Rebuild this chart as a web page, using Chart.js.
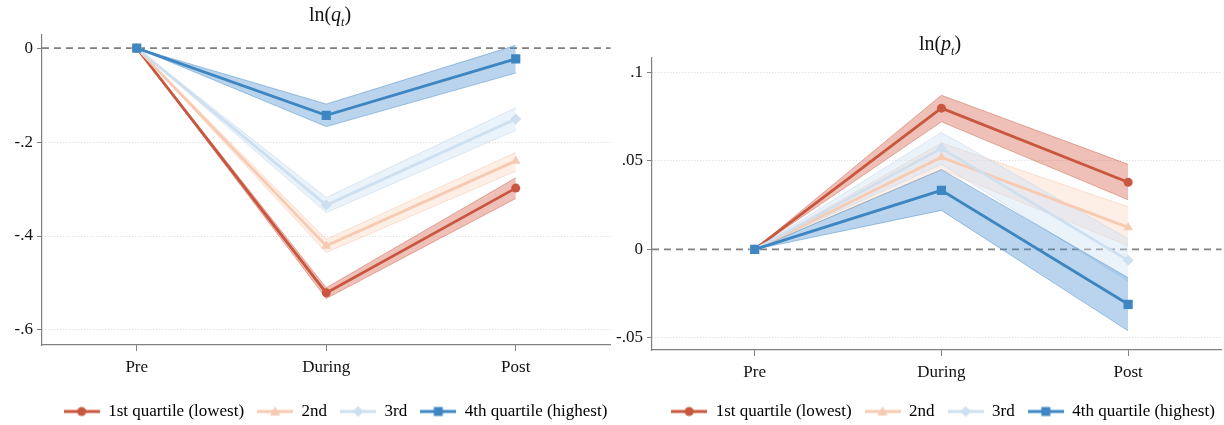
<!DOCTYPE html>
<html>
<head>
<meta charset="utf-8">
<script src="https://cdn.jsdelivr.net/npm/chart.js@4.4.0/dist/chart.umd.min.js"></script>
<style>
body { margin: 0; background: #fff; width: 1224px; height: 425px; overflow: hidden; position: relative; font-family: "Liberation Serif", "Times New Roman", serif; }
.panel { position: absolute; top: 0; height: 425px; }
.ttl { position: absolute; font-size: 20px; transform: translateX(-50%); white-space: nowrap; color: #111; }
.ttl sub { font-size: 12px; }
</style>
</head>
<body>
<div class="panel" style="left:0;width:617px"><canvas id="chart_q" width="617" height="425"></canvas>
  <div class="ttl" style="left:330px;top:3px">ln(<i>q<sub>t</sub></i>)</div></div>
<div class="panel" style="left:612px;width:616px"><canvas id="chart_p" width="616" height="425"></canvas>
  <div class="ttl" style="left:328px;top:32px">ln(<i>p<sub>t</sub></i>)</div></div>
<script>
var periods = ['Pre', 'During', 'Post'];
var quartiles = ['1st quartile (lowest)', '2nd', '3rd', '4th quartile (highest)'];

// ln(q_t): point estimates and band limits per quartile
var q1 = [0, -0.521, -0.298], q1_lo = [0, -0.533, -0.320], q1_hi = [0, -0.510, -0.276];
var q2 = [0, -0.421, -0.240], q2_lo = [0, -0.435, -0.262], q2_hi = [0, -0.407, -0.222];
var q3 = [0, -0.334, -0.151], q3_lo = [0, -0.350, -0.175], q3_hi = [0, -0.318, -0.127];
var q4 = [0, -0.143, -0.023], q4_lo = [0, -0.167, -0.053], q4_hi = [0, -0.119, 0.006];
var q_ticks = [0, -0.2, -0.4, -0.6];

// ln(p_t)
var p1 = [0, 0.0797, 0.0379], p1_lo = [0, 0.0720, 0.0280], p1_hi = [0, 0.0870, 0.0480];
var p2 = [0, 0.0520, 0.0124], p2_lo = [0, 0.0450, 0.0020], p2_hi = [0, 0.0600, 0.0240];
var p3 = [0, 0.0570, -0.0062], p3_lo = [0, 0.0480, -0.0180], p3_hi = [0, 0.0660, 0.0060];
var p4 = [0, 0.0333, -0.0310], p4_lo = [0, 0.0220, -0.0460], p4_hi = [0, 0.0450, -0.0160];
var p_ticks = [0.1, 0.05, 0, -0.05];

var lineColors = ['rgb(201,86,62)', 'rgb(247,202,178)', 'rgb(206,224,240)', 'rgb(62,134,193)'];
var bandColors = ['rgba(212,98,78,0.40)', 'rgba(250,205,182,0.34)', 'rgba(205,225,242,0.42)', 'rgba(70,142,204,0.38)'];
var edgeColors = ['rgba(201,86,62,0.45)', 'rgba(247,190,160,0.45)', 'rgba(190,212,232,0.5)', 'rgba(62,134,193,0.45)'];
var markers = ['circle', 'triangle', 'rectRot', 'rect'];
var markerSizes = [4.5, 5.5, 5.5, 6.5];
var serif = '"Liberation Serif", "Times New Roman", serif';

function pts(arr) {
    return arr.map(function (v, k) { return {x: k, y: v}; });
}

function fmtTick(v) {
    if (Math.abs(v) < 1e-9) return '0';
    var s = String(Math.abs(v)).replace(/^0/, '');
    return (v < 0 ? '-' : '') + s;
}

function legendSymbol(i) {
    var c = document.createElement('canvas');
    c.width = 36; c.height = 14;
    var g = c.getContext('2d');
    g.strokeStyle = lineColors[i];
    g.fillStyle = lineColors[i];
    g.lineWidth = 2.8;
    g.beginPath(); g.moveTo(0, 7); g.lineTo(36, 7); g.stroke();
    g.beginPath();
    if (markers[i] === 'circle') g.arc(18, 7, 4.5, 0, Math.PI * 2);
    else if (markers[i] === 'triangle') { g.moveTo(18, 2); g.lineTo(23, 11); g.lineTo(13, 11); g.closePath(); }
    else if (markers[i] === 'rectRot') { g.moveTo(18, 1.5); g.lineTo(23.5, 7); g.lineTo(18, 12.5); g.lineTo(12.5, 7); g.closePath(); }
    else g.rect(13.5, 2.5, 9, 9);
    g.fill();
    return c;
}

var zeroLine = {
    id: 'zeroLine',
    beforeDatasetsDraw: function (chart) {
        var y = chart.scales.y.getPixelForValue(0);
        var a = chart.chartArea, ctx = chart.ctx;
        ctx.save();
        ctx.strokeStyle = 'rgb(128,128,128)';
        ctx.lineWidth = 1.6;
        ctx.setLineDash([7, 5]);
        ctx.beginPath(); ctx.moveTo(a.left, y); ctx.lineTo(a.right, y); ctx.stroke();
        ctx.restore();
    }
};

// nudge the legend box after layout
var legendShift = {
    id: 'legendShift',
    afterLayout: function (chart, args, opts) {
        var lg = chart.legend;
        lg.left += opts.dx; lg.right += opts.dx;
        lg.top += opts.dy; lg.bottom += opts.dy;
    }
};

function makeChart(canvas_id, means, lows, highs, ticks, yMin, yMax, xMin, padTop, yWidth, xHeight, dx, dy) {
    var datasets = [];
    for (var i = 0; i < 4; i++) {
        datasets.push({data: pts(lows[i]), borderColor: edgeColors[i], borderWidth: 1, pointRadius: 0, fill: false, order: 40 - 2 * i, band: true});
        datasets.push({data: pts(highs[i]), borderColor: edgeColors[i], borderWidth: 1, pointRadius: 0, fill: '-1', backgroundColor: bandColors[i], order: 39 - 2 * i, band: true});
    }
    for (var j = 0; j < 4; j++) {
        datasets.push({label: quartiles[j], data: pts(means[j]), borderColor: lineColors[j], backgroundColor: lineColors[j],
            borderWidth: 2.8, pointStyle: markers[j], pointRadius: markerSizes[j], pointBorderWidth: 0, fill: false, order: 10 - j, qi: j});
    }
    var ctx = document.getElementById(canvas_id).getContext('2d');
    return new Chart(ctx, {
        type: 'line',
        data: {datasets: datasets},
        options: {
            responsive: false,
            animation: false,
            layout: {padding: {top: padTop, right: 0, left: 0, bottom: 0}},
            plugins: {
                tooltip: {enabled: false},
                legendShift: {dx: dx, dy: dy},
                legend: {
                    position: 'bottom',
                    labels: {
                        usePointStyle: true,
                        pointStyleWidth: 36,
                        padding: 13,
                        color: '#111',
                        font: {family: serif, size: 17},
                        generateLabels: function (chart) {
                            return chart.data.datasets.filter(function (d) { return !d.band; }).map(function (d) {
                                return {text: d.label, pointStyle: legendSymbol(d.qi), fillStyle: d.borderColor,
                                    strokeStyle: d.borderColor, lineWidth: 0, hidden: false, datasetIndex: chart.data.datasets.indexOf(d)};
                            });
                        }
                    }
                }
            },
            elements: {line: {tension: 0}},
            scales: {
                x: {
                    type: 'linear', min: xMin, max: 2.5,
                    afterBuildTicks: function (s) { s.ticks = periods.map(function (p, k) { return {value: k}; }); },
                    afterFit: function (s) { s.height = xHeight; },
                    ticks: {callback: function (v) { return periods[v]; }, color: '#111', font: {family: serif, size: 17}, padding: 6},
                    grid: {drawOnChartArea: false, drawTicks: true, tickLength: 6, tickColor: '#808080', tickWidth: 1},
                    border: {color: '#808080', width: 1.2}
                },
                y: {
                    min: yMin, max: yMax,
                    afterBuildTicks: function (s) { s.ticks = ticks.map(function (v) { return {value: v}; }); },
                    afterFit: function (s) { s.width = yWidth; },
                    ticks: {callback: fmtTick, color: '#111', font: {family: serif, size: 17}, padding: 4},
                    grid: {
                        color: function (c) { return c.tick && Math.abs(c.tick.value) < 1e-9 ? 'rgba(0,0,0,0)' : '#d9d9d9'; },
                        lineWidth: 1, tickLength: 5, tickColor: '#808080', tickWidth: 1
                    },
                    border: {color: '#808080', width: 1.2, dash: [1, 2]}
                }
            }
        },
        plugins: [zeroLine, legendShift]
    });
}

makeChart('chart_q', [q1, q2, q3, q4], [q1_lo, q2_lo, q3_lo, q4_lo], [q1_hi, q2_hi, q3_hi, q4_hi],
    q_ticks, -0.632, 0.028, -0.5, 35, 42, 40, 27, 5);
makeChart('chart_p', [p1, p2, p3, p4], [p1_lo, p2_lo, p3_lo, p4_lo], [p1_hi, p2_hi, p3_hi, p4_hi],
    p_ticks, -0.0568, 0.108, -0.55, 58, 40, 35, 23, 5);
</script>
</body>
</html>
